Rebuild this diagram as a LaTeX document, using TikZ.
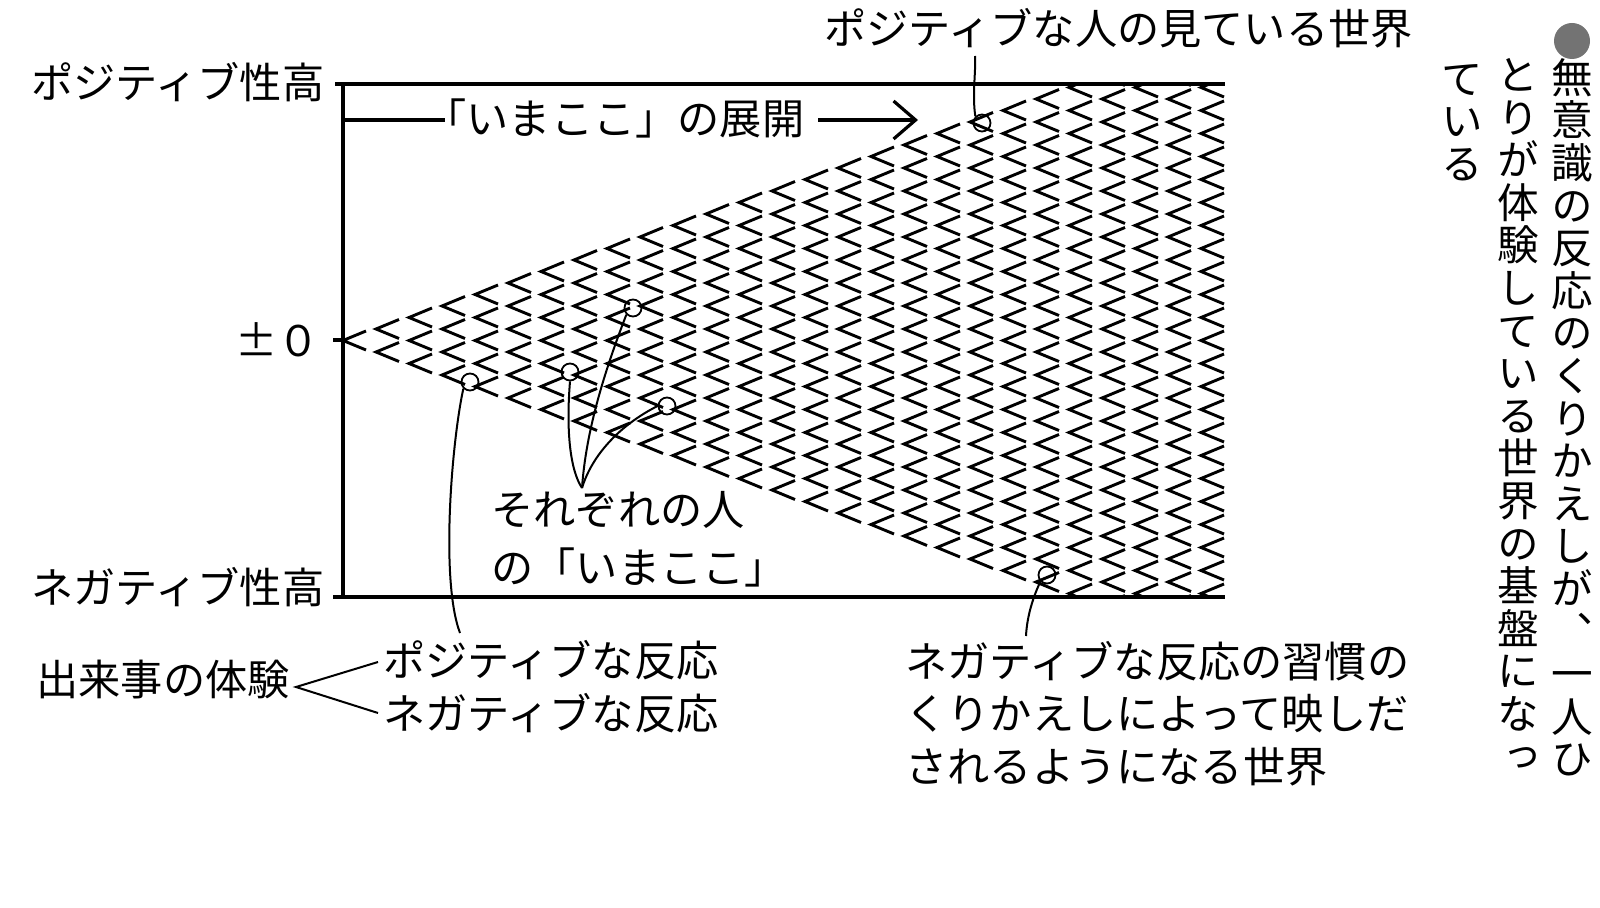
\documentclass[tikz,border=0pt]{standalone}
\usepackage{fontspec}
\setmainfont{Noto Sans CJK JP}
\newfontfamily\cjkv[RawFeature=+vert]{Noto Sans CJK JP}
\usetikzlibrary{arrows.meta}
\begin{document}
\begin{tikzpicture}[x=0.5pt,y=-0.5pt,
  lbl/.style={inner sep=0pt, font=\fontsize{21.1}{24}\selectfont},
  zig/.style={line width=1.45pt, line cap=butt, line join=miter},
  axis/.style={line width=1.6pt},
  lead/.style={line width=1pt},
  mk/.style={circle, draw, line width=0.9pt, minimum size=8.5pt, inner sep=0pt},
  vcol/.style={inner sep=0pt, align=center, anchor=north, font=\cjkv\fontsize{20.8}{21.3}\selectfont}
]
\useasboundingbox (0,0) rectangle (1600,908);

% lattice of chevrons
\begin{scope}
\clip (338,84) rectangle (1225,597);
\foreach \i in {0,...,26}{
  \pgfmathsetmacro\xx{343+33*\i}
  \foreach \j in {0,...,\i}{
    \pgfmathsetmacro\yy{340.5+23*(\j-\i/2)}
    \draw[zig] (\xx+23,\yy-9.5) -- (\xx,\yy) -- (\xx+23,\yy+9.5);
  }
}
\end{scope}

% axes
\coordinate (tl) at (335,84);
\coordinate (tr) at (1225,84);
\coordinate (bl) at (333,597);
\coordinate (br) at (1225,597);
\coordinate (ax0) at (343,83);
\coordinate (ax1) at (343,598);
\coordinate (z0) at (333,340);
\coordinate (z1) at (343,340);
\draw[axis] (tl) -- (tr);
\draw[axis] (bl) -- (br);
\draw[axis] (ax0) -- (ax1);
\draw[axis] (z0) -- (z1);

% labels
\node[lbl, anchor=west] (ph) at (31,82) {ポジティブ性高};
\node[lbl, anchor=east] (zz) at (320,340) {±０};
\node[lbl, anchor=west] (nh) at (31,587) {ネガティブ性高};
\node[lbl, anchor=west] (ev) at (36,680) {出来事の体験};
\node[lbl, anchor=west] (pr) at (383,660) {ポジティブな反応};
\node[lbl, anchor=west] (nr) at (383,713) {ネガティブな反応};
\node[lbl, anchor=west] (tx) at (424,118) {「いまここ」の展開};
\node[lbl, anchor=west] (pw) at (824,28) {ポジティブな人の見ている世界};
\node[lbl, anchor=west] (s1) at (491,510) {それぞれの人};
\node[lbl, anchor=west] (s2) at (491,567) {の「いまここ」};
\node[lbl, anchor=west] (b1) at (905,661) {ネガティブな反応の習慣の};
\node[lbl, anchor=west] (b2) at (905,714) {くりかえしによって映しだ};
\node[lbl, anchor=west] (b3) at (905,767) {されるようになる世界};

% arrow of development
\coordinate (aL) at (343,120);
\coordinate (aM) at (445,120);
\coordinate (aS) at (818,120);
\coordinate (aR) at (918,120);
\draw[axis] (aL) -- (aM);
\draw[axis, line join=miter, -{Straight Barb[length=11pt,width=19pt]}] (aS) -- (aR);

% event branching
\draw[lead] ([xshift=-2.5pt,yshift=-1pt]pr.west) -- ([xshift=3pt,yshift=-3.5pt]ev.east) -- ([xshift=-2.5pt]nr.west);

% callouts
\node[mk] (c1) at (982,123) {};
\coordinate (c1e) at (975,56);
\draw[lead] (c1.north west) .. controls (972,95) and (976,72) .. (c1e);

\node[mk] (c2) at (470,382) {};
\coordinate (c2e) at (460,633);
\draw[lead] (c2.south west) .. controls (452,440) and (440,580) .. (c2e);

\node[mk] (c3) at (570,372) {};
\node[mk] (c4) at (633,308) {};
\node[mk] (c5) at (667,406) {};
\coordinate (jn) at (582,488);
\draw[lead] (c3.south) .. controls (566,430) and (570,470) .. (jn);
\draw[lead] (c4.south west) .. controls (605,370) and (586,430) .. (jn);
\draw[lead] (c5.west) .. controls (620,425) and (592,455) .. (jn);

\node[mk] (c6) at (1047,575) {};
\coordinate (c6e) at (1026,636);
\draw[lead] (c6.south west) .. controls (1034,595) and (1027,615) .. (c6e);

% vertical note
\node[circle, fill=black!55, minimum size=18pt, inner sep=0pt] (bul) at (1572,41) {};
\node[vcol] (v1) at (1572,58) {無\\意\\識\\の\\反\\応\\の\\く\\り\\か\\え\\し\\が\\、\\一\\人\\ひ};
\node[vcol] (v2) at (1518,58) {と\\り\\が\\体\\験\\し\\て\\い\\る\\世\\界\\の\\基\\盤\\に\\な\\っ};
\node[vcol] (v3) at (1462,64) {て\\い\\る};
\end{tikzpicture}
\end{document}
